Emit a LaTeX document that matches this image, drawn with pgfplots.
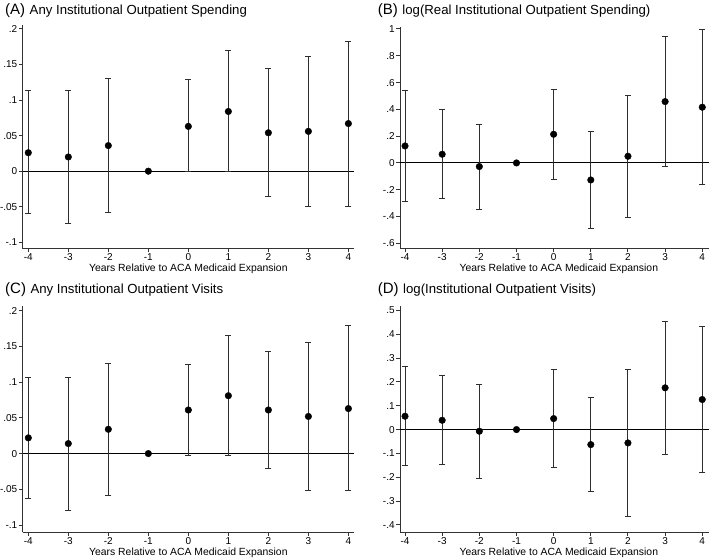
\documentclass[border=0pt]{standalone}
\usepackage{fontspec}
\setmainfont{Liberation Sans}
\usepackage{pgfplots}
\usepackage{pgfplotstable}
\pgfplotsset{compat=1.18}

\pgfplotstableread{
x y lo hi
-4 0.026 -0.060 0.113
-3 0.020 -0.074 0.113
-2 0.036 -0.058 0.130
-1 0 0 0
0 0.063 -0.001 0.129
1 0.084 0.000 0.170
2 0.054 -0.035 0.144
3 0.056 -0.049 0.161
4 0.067 -0.050 0.183
}\dataA
\pgfplotstableread{
x y lo hi
-4 0.127 -0.289 0.540
-3 0.065 -0.264 0.396
-2 -0.027 -0.346 0.289
-1 0 0 0
0 0.214 -0.122 0.550
1 -0.127 -0.488 0.237
2 0.050 -0.408 0.506
3 0.458 -0.025 0.941
4 0.416 -0.162 0.994
}\dataB
\pgfplotstableread{
x y lo hi
-4 0.022 -0.063 0.107
-3 0.014 -0.079 0.107
-2 0.034 -0.059 0.126
-1 0 0 0
0 0.061 -0.002 0.125
1 0.081 -0.002 0.165
2 0.061 -0.021 0.143
3 0.052 -0.051 0.156
4 0.063 -0.052 0.179
}\dataC
\pgfplotstableread{
x y lo hi
-4 0.056 -0.149 0.264
-3 0.039 -0.147 0.228
-2 -0.007 -0.207 0.191
-1 0 0 0
0 0.046 -0.161 0.253
1 -0.063 -0.261 0.135
2 -0.056 -0.365 0.253
3 0.175 -0.105 0.454
4 0.126 -0.179 0.430
}\dataD

\pgfplotsset{
  panel/.style={
    scale only axis,
    anchor=south west,
    axis lines*=left,
    axis line style={-, black!80, line width=1pt},
    tick align=outside,
    major tick length=3.7pt,
    tick style={black!80, line width=1pt},
    xtick={-4,-3,-2,-1,0,1,2,3,4},
    xticklabels={-4,-3,-2,-1,0,1,2,3,4},
    ticklabel style={font=\fontsize{10}{12}\selectfont},
    yticklabel style={inner sep=1.5pt},
    xticklabel style={inner sep=1pt},
    xlabel={Years Relative to ACA Medicaid Expansion},
    xlabel style={font=\fontsize{10.4}{12}\selectfont, at={(axis description cs:0.5,0)}, anchor=base, yshift=-23pt},
  },
  ci/.style={only marks, mark=*, mark size=3.3pt, black,
    error bars/.cd, y dir=both, y explicit,
    error bar style={black!82, line width=1pt},
    error mark options={rotate=90, black!82, mark size=3pt, line width=1pt}},
}

\begin{document}
\begin{tikzpicture}
\useasboundingbox (0pt,0pt) rectangle (709pt,559pt);

% Panel A
\begin{axis}[panel, at={(22.7pt,310.3pt)}, width=331.3pt, height=223.7pt,
  xmin=-4.14, xmax=4.14, ymin=-0.109, ymax=0.2056,
  ytick={-0.1,-0.05,0,0.05,0.1,0.15,0.2}, yticklabels={-.1,-.05,0,.05,.1,.15,.2}]
\addplot[black, line width=0.9pt] coordinates {(-4.14,0) (4.14,0)};
\addplot[ci] table[x=x, y=y, y error plus expr=\thisrow{hi}-\thisrow{y}, y error minus expr=\thisrow{y}-\thisrow{lo}]{\dataA};
\end{axis}

% Panel B
\begin{axis}[panel, at={(400pt,310.3pt)}, width=309.7pt, height=222pt,
  xmin=-4.135, xmax=4.2, ymin=-0.640, ymax=1.017,
  xlabel style={xshift=4pt},
  ytick={-0.6,-0.4,-0.2,0,0.2,0.4,0.6,0.8,1}, yticklabels={-.6,-.4,-.2,0,.2,.4,.6,.8,1}]
\addplot[black, line width=0.9pt] coordinates {(-4.135,0) (4.2,0)};
\addplot[ci] table[x=x, y=y, y error plus expr=\thisrow{hi}-\thisrow{y}, y error minus expr=\thisrow{y}-\thisrow{lo}]{\dataB};
\end{axis}

% Panel C
\begin{axis}[panel, at={(22.7pt,26.7pt)}, width=331.3pt, height=226.3pt,
  xmin=-4.14, xmax=4.14, ymin=-0.1102, ymax=0.2066,
  ytick={-0.1,-0.05,0,0.05,0.1,0.15,0.2}, yticklabels={-.1,-.05,0,.05,.1,.15,.2}]
\addplot[black, line width=0.9pt] coordinates {(-4.14,0) (4.14,0)};
\addplot[ci] table[x=x, y=y, y error plus expr=\thisrow{hi}-\thisrow{y}, y error minus expr=\thisrow{y}-\thisrow{lo}]{\dataC};
\end{axis}

% Panel D
\begin{axis}[panel, at={(400pt,26.7pt)}, width=309.7pt, height=226.3pt,
  xmin=-4.135, xmax=4.2, ymin=-0.4306, ymax=0.518,
  xlabel style={xshift=4pt},
  ytick={-0.4,-0.3,-0.2,-0.1,0,0.1,0.2,0.3,0.4,0.5}, yticklabels={-.4,-.3,-.2,-.1,0,.1,.2,.3,.4,.5}]
\addplot[black, line width=0.9pt] coordinates {(-4.135,0) (4.2,0)};
\addplot[ci] table[x=x, y=y, y error plus expr=\thisrow{hi}-\thisrow{y}, y error minus expr=\thisrow{y}-\thisrow{lo}]{\dataD};
\end{axis}

% Titles
\node[anchor=base west, inner sep=0pt] at (5pt,544.5pt) {\fontsize{15}{16}\selectfont (A)\hspace{4.5pt}\fontsize{13.2}{15}\selectfont Any Institutional Outpatient Spending};
\node[anchor=base west, inner sep=0pt] at (377.7pt,544.5pt) {\fontsize{15}{16}\selectfont (B)\hspace{4.5pt}\fontsize{13.2}{15}\selectfont log(Real Institutional Outpatient Spending)};
\node[anchor=base west, inner sep=0pt] at (5pt,265.3pt) {\fontsize{15}{16}\selectfont (C)\hspace{4.5pt}\fontsize{13.2}{15}\selectfont Any Institutional Outpatient Visits};
\node[anchor=base west, inner sep=0pt] at (377.7pt,265.3pt) {\fontsize{15}{16}\selectfont (D)\hspace{4.5pt}\fontsize{13.2}{15}\selectfont log(Institutional Outpatient Visits)};
\end{tikzpicture}
\end{document}
